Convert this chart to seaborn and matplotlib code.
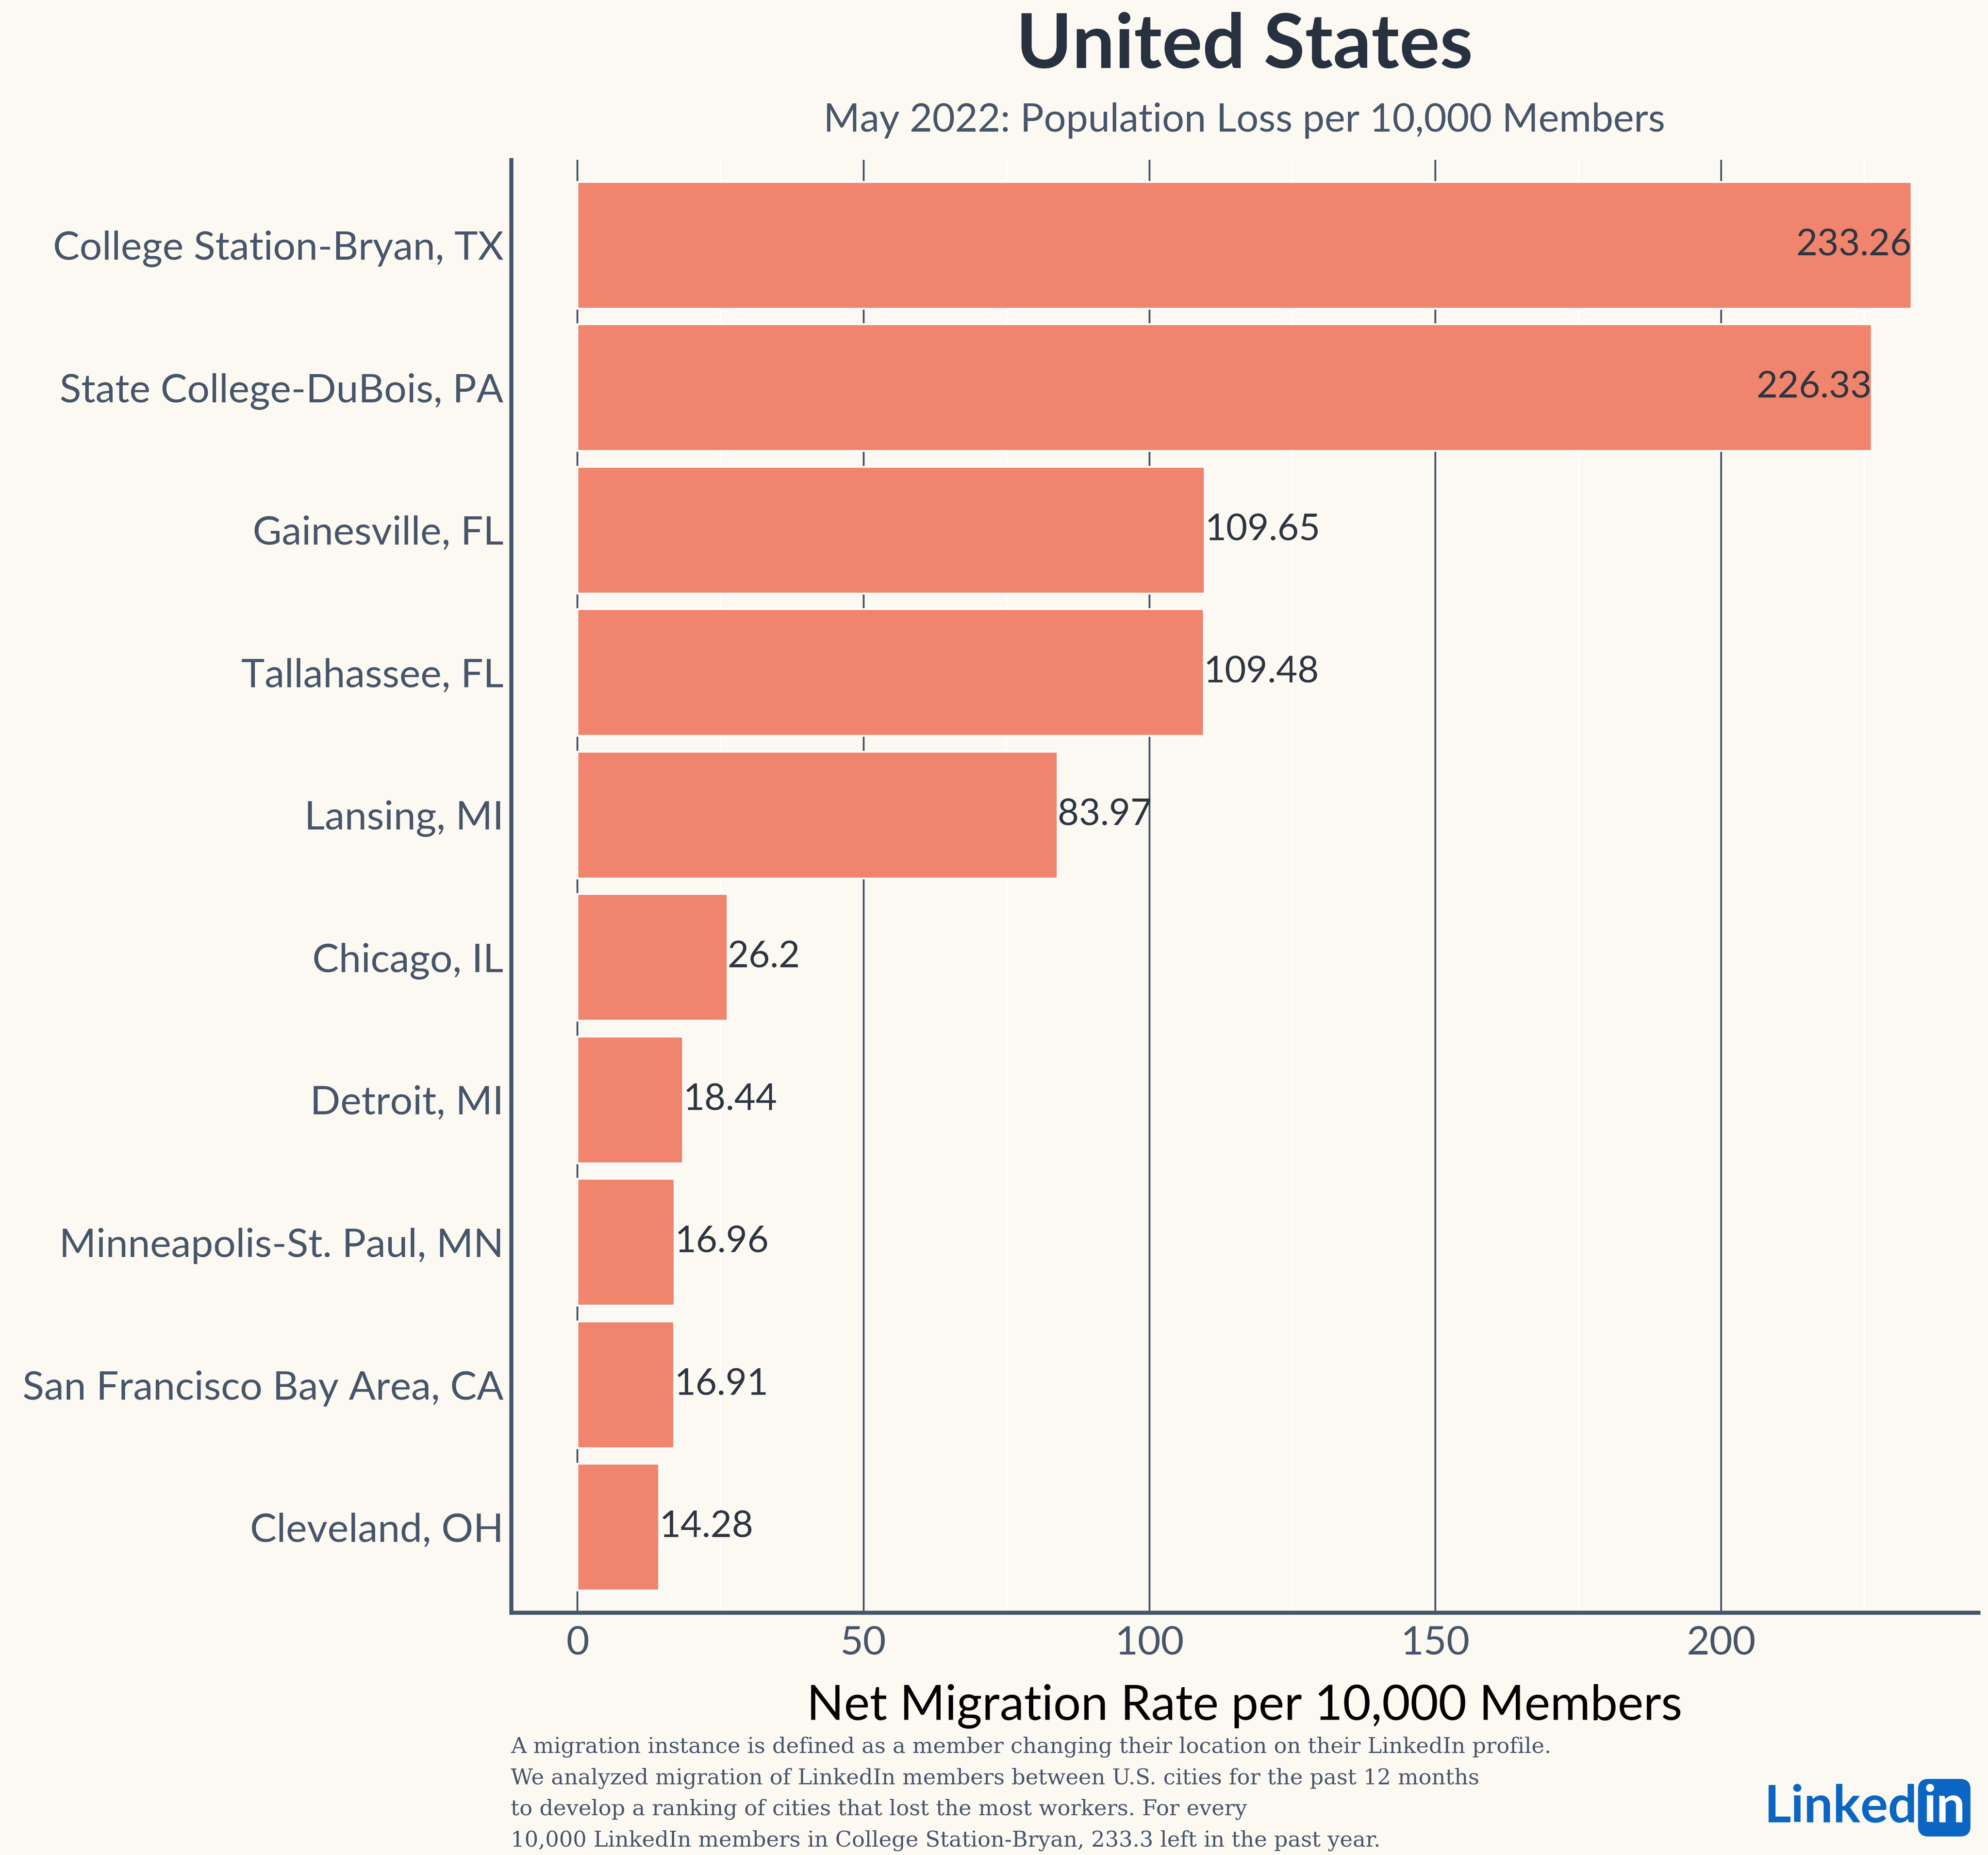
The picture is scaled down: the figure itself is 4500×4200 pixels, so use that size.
import matplotlib
matplotlib.use('Agg')
import matplotlib.pyplot as plt
import seaborn as sns
import pandas as pd
from matplotlib.ticker import MultipleLocator

# data
cities = ['College Station-Bryan, TX', 'State College-DuBois, PA', 'Gainesville, FL',
          'Tallahassee, FL', 'Lansing, MI', 'Chicago, IL', 'Detroit, MI',
          'Minneapolis-St. Paul, MN', 'San Francisco Bay Area, CA', 'Cleveland, OH']
rates = [233.26, 226.33, 109.65, 109.48, 83.97, 26.2, 18.44, 16.96, 16.91, 14.28]
labels = ['233.26', '226.33', '109.65', '109.48', '83.97', '26.2', '18.44', '16.96', '16.91', '14.28']

df = pd.DataFrame({'City': cities, 'Rate': rates})

bg = '#FCF9F2'
bar_c = '#F0846C'
slate = '#475569'

sns.set_theme(style='white')
plt.rcParams['font.family'] = ['Lato', 'DejaVu Sans']

fig = plt.figure(figsize=(15, 14), dpi=300, facecolor=bg)
ax = fig.add_axes([0.257, 0.1306, 0.738, 0.7833])
ax.set_facecolor(bg)

sns.barplot(data=df, x='Rate', y='City', color=bar_c, saturation=1, width=0.89, ax=ax, zorder=3)

ax.set_xlim(-11.66, 244.9)
ax.set_ylim(9.6, -0.6)
ax.xaxis.set_major_locator(MultipleLocator(50))
ax.xaxis.set_minor_locator(MultipleLocator(25))
ax.set_axisbelow(True)
ax.grid(axis='x', which='major', color=slate, lw=1.0, zorder=0)
ax.grid(axis='x', which='minor', color='white', lw=1.0, zorder=0)

for s in ['top', 'right']:
    ax.spines[s].set_visible(False)
for s in ['left', 'bottom']:
    ax.spines[s].set_color(slate)
    ax.spines[s].set_linewidth(2.2)

ax.tick_params(axis='both', which='major', labelsize=21.6, labelcolor=slate,
               color='#222222', length=3, width=1, direction='out')
ax.tick_params(axis='x', which='minor', length=0)
ax.tick_params(axis='y', pad=1)
ax.tick_params(axis='x', pad=4)
ax.set_ylabel('')
ax.set_xlabel('Net Migration Rate per 10,000 Members', fontsize=26.5, color='black', labelpad=12)

for i, (v, t) in enumerate(zip(rates, labels)):
    if v > 200:
        ax.text(v, i, t, ha='right', va='center', fontsize=20, color='#2D3540', zorder=4)
    else:
        ax.text(v, i, t, ha='left', va='center', fontsize=20, color='#2D3540', zorder=4)

cx = 0.257 + 0.738 / 2
fig.text(cx, 0.975, 'United States', ha='center', va='center', fontsize=41,
         fontweight='bold', color='#273140')
fig.text(cx, 0.935, 'May 2022: Population Loss per 10,000 Members', ha='center',
         va='center', fontsize=21.3, color=slate)

note = ('A migration instance is defined as a member changing their location on their LinkedIn profile.\n'
        'We analyzed migration of LinkedIn members between U.S. cities for the past 12 months\n'
        'to develop a ranking of cities that lost the most workers. For every\n'
        '10,000 LinkedIn members in College Station-Bryan, 233.3 left in the past year.')
fig.text(0.257, 0.033, note, ha='left', va='center', fontsize=11.8, color=slate,
         family=['DejaVu Serif'], linespacing=1.62)

fig.text(0.9645, 0.0255, 'Linked', ha='right', va='center', fontsize=28,
         fontweight='bold', color='#0A66C2')
fig.text(0.978, 0.0255, 'in', ha='center', va='center', fontsize=28,
         fontweight='bold', color='white',
         bbox=dict(boxstyle='round,pad=0.1,rounding_size=0.2', fc='#0A66C2', ec='none'))

fig.savefig('out.png', dpi=300, facecolor=bg)
